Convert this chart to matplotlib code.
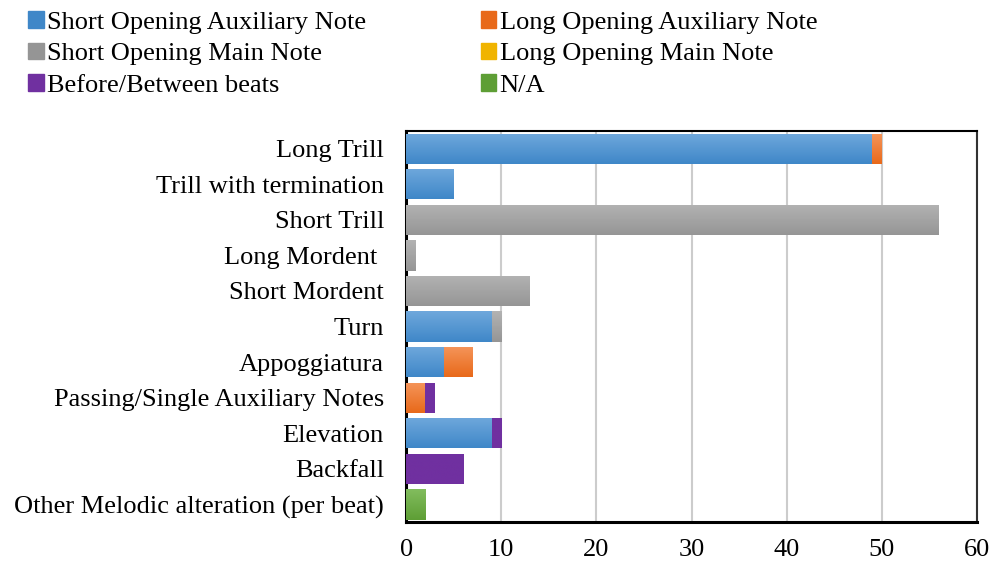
import matplotlib.pyplot as plt
import matplotlib.patches as mpatches
import numpy as np

plt.rcParams['font.family'] = ['Liberation Serif', 'DejaVu Serif']

categories = ['Long Trill', 'Trill with termination', 'Short Trill', 'Long Mordent ',
              'Short Mordent', 'Turn', 'Appoggiatura', 'Passing/Single Auxiliary Notes',
              'Elevation', 'Backfall', 'Other Melodic alteration (per beat)']

short_aux = [49, 5, 0, 0, 0, 9, 4, 0, 9, 0, 0]
long_aux = [1, 0, 0, 0, 0, 0, 3, 2, 0, 0, 0]
short_main = [0, 0, 56, 1, 13, 1, 0, 0, 0, 0, 0]
long_main = [0, 0, 0, 0, 0, 0, 0, 0, 0, 0, 0]
before_between = [0, 0, 0, 0, 0, 0, 0, 1, 1, 6, 0]
not_applicable = [0, 0, 0, 0, 0, 0, 0, 0, 0, 0, 2]

series = [
    ('Short Opening Auxiliary Note', short_aux, ('#6fa8dc', '#3f87c8')),
    ('Long Opening Auxiliary Note', long_aux, ('#f5955a', '#e8691a')),
    ('Short Opening Main Note', short_main, ('#b3b3b3', '#959595')),
    ('Long Opening Main Note', long_main, ('#ffd24d', '#f0b400')),
    ('Before/Between beats', before_between, ('#7030a0', '#7030a0')),
    ('N/A', not_applicable, ('#82bd5e', '#5e9e35')),
]

fig = plt.figure(figsize=(9.93, 5.64), dpi=100)
ax = fig.add_axes([0.409, 0.074, 0.575, 0.694])

y = np.arange(len(categories))
left = np.zeros(len(categories))
grad = np.linspace(0, 1, 64).reshape(-1, 1)
handles = {}
for name, vals, (top_c, bot_c) in series:
    vals = np.array(vals, dtype=float)
    bars = ax.barh(y, vals, left=left, height=0.85, color=bot_c, edgecolor='none', zorder=2)
    cmap = plt.matplotlib.colors.LinearSegmentedColormap.from_list(name, [top_c, bot_c])
    # vertical gradient fill, clipped to each bar segment
    for b, v in zip(bars, vals):
        if v <= 0:
            continue
        x0, y0 = b.get_x(), b.get_y()
        im = ax.imshow(grad, cmap=cmap, aspect='auto', zorder=3,
                       extent=(x0, x0 + b.get_width(), y0 + b.get_height(), y0),
                       origin='upper')
        im.set_clip_path(b)
    handles[name] = mpatches.Patch(color=bot_c)
    left += vals

ax.set_xlim(0, 60)
ax.set_ylim(len(categories) - 0.5, -0.5)
ax.set_xticks(range(0, 61, 10))
ax.set_yticks(y)
ax.set_yticklabels(categories)
ax.tick_params(axis='both', length=0, labelsize=19, colors='black')
ax.tick_params(axis='x', pad=12)
ax.tick_params(axis='y', pad=16)
ax.xaxis.grid(True, color='#cccccc', linewidth=1.5, zorder=0)
ax.set_axisbelow(True)
for side in ['left', 'bottom']:
    ax.spines[side].set_linewidth(2.2)
    ax.spines[side].set_color('black')
ax.spines['top'].set_linewidth(1.5)
ax.spines['right'].set_linewidth(1.5)
ax.spines['right'].set_color('#333333')

order = ['Short Opening Auxiliary Note', 'Short Opening Main Note', 'Before/Between beats',
         'Long Opening Auxiliary Note', 'Long Opening Main Note', 'N/A']
fig.legend([handles[n] for n in order], order, ncol=2, loc='upper left',
           bbox_to_anchor=(0.004, 1.022), frameon=False, fontsize=19,
           handlelength=0.6, handleheight=0.6, handletextpad=0.12,
           columnspacing=4.35, labelspacing=0.33)

fig.savefig('out.png', dpi=100)
